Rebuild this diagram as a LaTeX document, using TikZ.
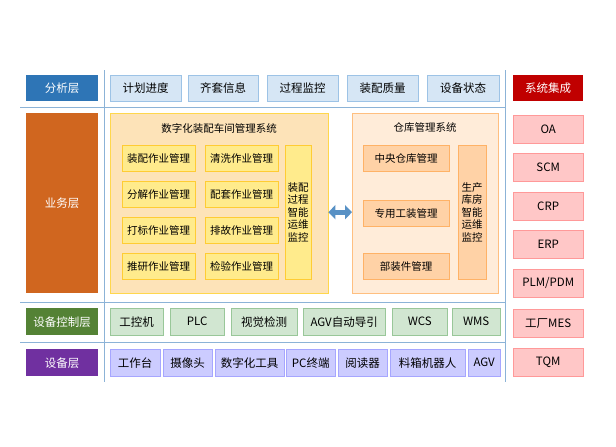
\documentclass[tikz,border=0pt]{standalone}
\usepackage{fontspec}
\setmainfont{Noto Sans CJK SC}
\usetikzlibrary{arrows.meta}
\definecolor{lblue}{HTML}{2E75B6}
\definecolor{lorange}{HTML}{D0661F}
\definecolor{lgreen}{HTML}{548235}
\definecolor{lpurple}{HTML}{7030A0}
\definecolor{lred}{HTML}{C00000}
\definecolor{anafill}{HTML}{D6E6F5}
\definecolor{anadraw}{HTML}{9DC3E6}
\newcommand\bx[7]{\node[#1,anchor=north west,minimum width=#5pt-#3pt,minimum height=#6pt-#4pt] (#2) at (#3,#4) {#7};}
\tikzset{
 base/.style={inner sep=0pt,font=\fontsize{11.5}{13}\selectfont,align=center},
 layer/.style={base,text=white},
 ana/.style={base,fill=anafill,draw=anadraw},
 ylw/.style={base,fill=yellow!20!orange!25!white,draw=orange!45!yellow!70!white},
 yin/.style={base,fill=orange!35!yellow!45!white,draw=orange!50!yellow!80!white,font=\fontsize{10.5}{12.5}\selectfont},
 pnk/.style={base,fill=orange!15!white,draw=orange!50!white},
 pin/.style={base,fill=orange!35!white,draw=orange!60!white,font=\fontsize{10.5}{12.5}\selectfont},
 grn/.style={base,fill=green!45!black!18!white,draw=green!45!black!40!white},
 prp/.style={base,fill=blue!20!white,draw=blue!35!white},
 rt/.style={base,fill=red!22!white,draw=red!40!white},
 sep/.style={draw=lblue!55!white,line width=1pt}
}
\begin{document}
\begin{tikzpicture}[x=1pt,y=-1pt]
\useasboundingbox (0,0) rectangle (616,447);
\coordinate (h1a) at (20,107); \coordinate (h1b) at (505,107);
\coordinate (h2a) at (20,302); \coordinate (h2b) at (505,302);
\coordinate (h3a) at (20,342); \coordinate (h3b) at (505,342);
\coordinate (v1a) at (104,70); \coordinate (v1b) at (104,382);
\coordinate (v2a) at (505,70); \coordinate (v2b) at (505,382);
\draw[sep] (h1a)--(h1b); \draw[sep] (h2a)--(h2b); \draw[sep] (h3a)--(h3b);
\draw[sep] (v1a)--(v1b); \draw[sep] (v2a)--(v2b);
\bx{layer,fill=lblue}{L1}{26}{75}{98}{101}{分析层}
\bx{layer,fill=lorange}{L2}{26}{113}{98}{293}{业务层}
\bx{layer,fill=lgreen}{L3}{26}{308}{98}{335}{设备控制层}
\bx{layer,fill=lpurple}{L4}{26}{349}{98}{376}{设备层}
\bx{ana}{a1}{110}{75}{181}{101}{计划进度}
\bx{ana}{a2}{188}{75}{258}{101}{齐套信息}
\bx{ana}{a3}{267}{75}{338}{101}{过程监控}
\bx{ana}{a4}{347}{75}{418}{101}{装配质量}
\bx{ana}{a5}{427}{75}{499}{101}{设备状态}
\bx{layer,fill=lred}{r0}{513}{75}{583}{101}{系统集成}
\bx{rt}{r1}{513}{115}{583}{143}{OA}
\bx{rt}{r2}{513}{153}{583}{181}{SCM}
\bx{rt}{r3}{513}{192}{583}{220}{CRP}
\bx{rt}{r4}{513}{230}{583}{258}{ERP}
\bx{rt}{r5}{513}{269}{583}{297}{PLM/PDM}
\bx{rt}{r6}{513}{309}{583}{337}{工厂MES}
\bx{rt}{r7}{513}{348}{583}{376}{TQM}
\bx{ylw}{ys}{110}{113}{328}{293}{}
\node[base,font=\fontsize{10.5}{12.5}\selectfont] (yt) at (219,128) {数字化装配车间管理系统};
\bx{yin}{y1}{122}{145}{195}{171}{装配作业管理}
\bx{yin}{y2}{205}{145}{278}{171}{清洗作业管理}
\bx{yin}{y3}{122}{181}{195}{207}{分解作业管理}
\bx{yin}{y4}{205}{181}{278}{207}{配套作业管理}
\bx{yin}{y5}{122}{217}{195}{243}{打标作业管理}
\bx{yin}{y6}{205}{217}{278}{243}{排故作业管理}
\bx{yin}{y7}{122}{253}{195}{279}{推研作业管理}
\bx{yin}{y8}{205}{253}{278}{279}{检验作业管理}
\bx{yin}{y9}{285}{145}{311}{279}{装配\\过程\\智能\\运维\\监控}
\bx{pnk}{ps}{352}{113}{498}{293}{}
\node[base,font=\fontsize{10.5}{12.5}\selectfont] (pt) at (425,128) {仓库管理系统};
\bx{pin}{p1}{363}{145}{449}{171}{中央仓库管理}
\bx{pin}{p2}{363}{200}{449}{226}{专用工装管理}
\bx{pin}{p3}{363}{253}{449}{279}{部装件管理}
\bx{pin}{p4}{458}{145}{486}{279}{生产\\库房\\智能\\运维\\监控}
\draw[{Triangle[width=14pt,length=7pt]}-{Triangle[width=14pt,length=7pt]},line width=5pt,draw=lblue!80!white] (ys.east|-y9.center) -- (ps.west|-y9.center);
\bx{grn}{g1}{110}{308}{163}{335}{工控机}
\bx{grn}{g2}{170}{308}{224}{335}{PLC}
\bx{grn}{g3}{231}{308}{297}{335}{视觉检测}
\bx{grn}{g4}{303}{308}{385}{335}{AGV自动导引}
\bx{grn}{g5}{392}{308}{447}{335}{WCS}
\bx{grn}{g6}{452}{308}{500}{335}{WMS}
\bx{prp}{d1}{110}{349}{160}{376}{工作台}
\bx{prp}{d2}{163}{349}{212}{376}{摄像头}
\bx{prp}{d3}{215}{349}{284}{376}{数字化工具}
\bx{prp}{d4}{286}{349}{335}{376}{PC终端}
\bx{prp}{d5}{338}{349}{387}{376}{阅读器}
\bx{prp}{d6}{390}{349}{465}{376}{料箱机器人}
\bx{prp}{d7}{468}{349}{500}{376}{AGV}
\end{tikzpicture}
\end{document}
